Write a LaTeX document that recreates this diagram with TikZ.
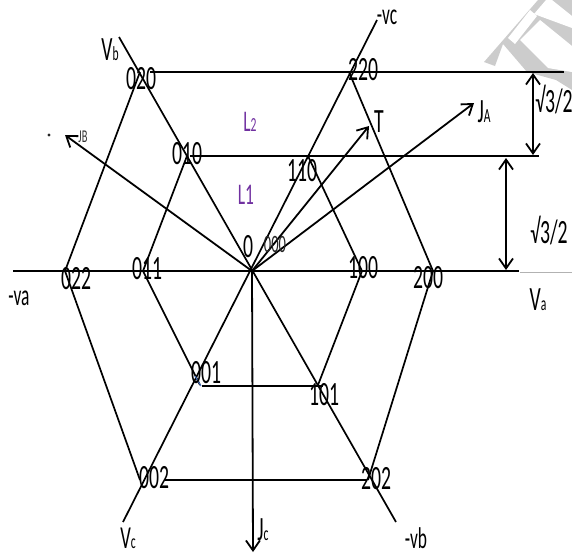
\documentclass[tikz,border=0pt]{standalone}
\usepackage{fontspec}
\setmainfont{Carlito}
\newfontfamily\nr[FakeStretch=0.58]{Carlito}
\usetikzlibrary{arrows.meta}
\definecolor{lpurple}{HTML}{7030A0}
\definecolor{tickblue}{HTML}{4472C4}
\newcommand{\subs}[1]{{\fontsize{20}{20}\selectfont #1}}
\tikzset{
  hline/.style={line width=2.8pt,black},
  dline/.style={line width=1.7pt,black},
  arr/.style={line width=1.8pt,black,-{Straight Barb[length=10pt,width=14pt,line width=1.8pt]}},
  darr/.style={line width=1.8pt,black,{Straight Barb[length=10pt,width=14pt,line width=1.8pt]}-{Straight Barb[length=10pt,width=14pt,line width=1.8pt]}},
  num/.style={inner sep=0pt,font=\nr\fontsize{34}{34}\selectfont,text=black},
  low/.style={inner sep=0pt,font=\nr\fontsize{32}{32}\selectfont,text=black},
  small/.style={inner sep=0pt,font=\nr\fontsize{25}{25}\selectfont,text=black!85},
  tiny/.style={inner sep=0pt,font=\nr\fontsize{18}{18}\selectfont,text=black!80},
  neg/.style={inner sep=0pt,font=\nr\fontsize{30}{30}\selectfont,text=black},
  lev/.style={inner sep=0pt,font=\nr\fontsize{30}{30}\selectfont,text=lpurple}
}
\begin{document}
\begin{tikzpicture}[x=1pt,y=-1pt]
\useasboundingbox (0,0) rectangle (572,555);
% watermark
\fill[black!20] (484,62) -- (538,0) -- (572,0) -- (572,90) -- (556,80) -- (527,72) -- (503,44) -- (495,66) -- cycle;
\fill[white] (508,38) -- (530,10) -- (537,16) -- (515,44) -- cycle;
\fill[white] (520,40) -- (540,20) -- (572,46) -- (572,72) -- (548,68) -- cycle;
\fill[white] (534,14) -- (546,0) -- (552,0) -- (572,16) -- (572,28) -- cycle;
% coordinates
\coordinate (O) at (252,271);
\coordinate (aL) at (13,271);
\coordinate (aR) at (519,271);
\coordinate (aG) at (520,272);
\coordinate (aE) at (572,272);
\coordinate (bT) at (119,37);
\coordinate (bB) at (396,522);
\coordinate (cT) at (377,20);
\coordinate (cB) at (123,522);
\coordinate (o020) at (140,72);
\coordinate (o220) at (349,72);
\coordinate (o200) at (433,271);
\coordinate (o202) at (368,480);
\coordinate (o002) at (140,480);
\coordinate (o022) at (65,271);
\coordinate (i010) at (187,156);
\coordinate (i110) at (308,156);
\coordinate (i100) at (362,271);
\coordinate (i101) at (318,385);
\coordinate (i001) at (200,385);
\coordinate (i011) at (143,271);
\coordinate (t1) at (150,72);
\coordinate (t2) at (564,72);
\coordinate (m1) at (190,156);
\coordinate (m2) at (539,156);
\coordinate (l1) at (202,386);
\coordinate (l2) at (323,386);
\coordinate (k1) at (165,480);
\coordinate (k2) at (367,480);
\coordinate (JAe) at (474,103);
\coordinate (Te) at (369,126);
\coordinate (JBe) at (65,135);
\coordinate (JCe) at (253,552);
\coordinate (h1a) at (533,73);
\coordinate (h1b) at (533,155);
\coordinate (h2a) at (506,158);
\coordinate (h2b) at (506,270);
\coordinate (tk1) at (195,376);
\coordinate (tk2) at (201,386);
% lines
\draw[black!30,line width=0.8pt] (aG) -- (aE);
\draw[dline] (bT) -- (bB);
\draw[dline] (cT) -- (cB);
\draw[dline] (o020) -- (o022) -- (o002);
\draw[dline] (o220) -- (o200) -- (o202);
\draw[dline] (i010) -- (i011) -- (i001);
\draw[dline] (i110) -- (i100) -- (i101);
\draw[tickblue,line width=1pt] (tk1) -- (tk2);
\draw[hline] (aL) -- (aR);
\draw[hline] (t1) -- (t2);
\draw[hline] (m1) -- (m2);
\draw[hline] (l1) -- (l2);
\draw[hline] (k1) -- (k2);
\draw[arr] (O) -- (JAe);
\draw[arr] (O) -- (Te);
\draw[arr] (O) -- (JBe);
\draw[arr] (O) -- (JCe);
\draw[darr] (h1a) -- (h1b);
\draw[darr] (h2a) -- (h2b);
\fill[black!85] (49,135) circle (1.6pt);
% labels
\node[num] (n020) at (141,79) {020};
\node[num] (n010) at (187,154) {010};
\node[num] (n011) at (147,269) {011};
\node[num] (n022) at (76,279) {022};
\node[num] (n0) at (248,247) {0};
\node[small] (n000) at (275,244) {000};
\node[num] (n220) at (363,70) {220};
\node[num] (n110) at (302,171) {110};
\node[num] (n100) at (363,268) {100};
\node[num] (n200) at (428,278) {200};
\node[num] (n001) at (206,373) {001};
\node[num] (n101) at (324,395) {101};
\node[num] (n002) at (154,478) {002};
\node[num] (n202) at (376,479) {202};
\node[num] (nT) at (379,122) {T};
\node[num] (nJA) at (484,112) {J\subs{A}};
\node[tiny] (nJB) at (83,137) {JB};
\node[num] (nJC) at (263,530) {J\subs{c}};
\node[num] (nVb) at (110,50) {V\subs{b}};
\node[low] (nVc) at (128,538) {V\subs{c}};
\node[num] (nVa) at (538,300) {V\subs{a}};
\node[neg] (nmVa) at (19,298) {-va};
\node[neg] (nmVc) at (387,17) {-vc};
\node[neg] (nmVb) at (416,538) {-vb};
\node[num] (nr1) at (554,100) {√3/2};
\node[num] (nr2) at (549,231) {√3/2};
\node[lev] (nL2) at (250,122) {L\subs{2}};
\node[lev] (nL1) at (246,195) {L1};
\end{tikzpicture}
\end{document}
